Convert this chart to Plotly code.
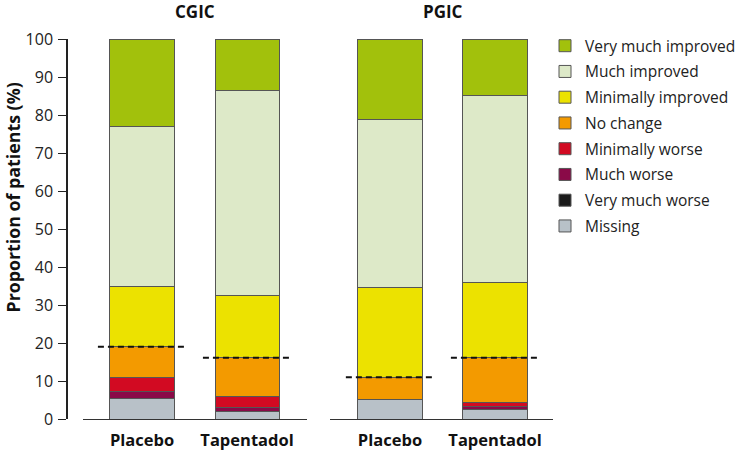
import plotly.graph_objects as go

groups = ["CGIC", "PGIC"]
arms = ["Placebo", "Tapentadol"]

# values per bar: [CGIC Placebo, CGIC Tapentadol, PGIC Placebo, PGIC Tapentadol]
categories = ["Missing", "Very much worse", "Much worse", "Minimally worse",
              "No change", "Minimally improved", "Much improved", "Very much improved"]
missing = [5.4, 2.0, 5.2, 2.6]
very_much_worse = [0.0, 0.0, 0.0, 0.0]
much_worse = [1.9, 1.0, 0.0, 0.8]
minimally_worse = [3.7, 2.9, 0.0, 0.9]
no_change = [8.0, 10.2, 5.8, 11.8]
minimally_improved = [15.8, 16.5, 23.6, 19.8]
much_improved = [42.2, 53.8, 44.3, 49.3]
very_much_improved = [23.0, 13.6, 21.1, 14.8]

series = [missing, very_much_worse, much_worse, minimally_worse, no_change,
          minimally_improved, much_improved, very_much_improved]
colors = ["#b8c1c8", "#1a1a1a", "#8a0a48", "#d20a22", "#f39a00",
          "#ece200", "#dde9c8", "#a2c10c"]

FONT = "Open Sans"
fig = go.Figure()

xpos = [0, 1]
for gi, g in enumerate(groups):
    xa = "x" if gi == 0 else "x2"
    ya = "y" if gi == 0 else "y2"
    for ci, (name, vals, col) in enumerate(zip(categories, series, colors)):
        fig.add_trace(go.Bar(
            x=xpos, y=vals[gi * 2: gi * 2 + 2], name=name,
            marker=dict(color=col, line=dict(color="#555555", width=1)),
            width=0.61, xaxis=xa, yaxis=ya,
            legendgroup=name, showlegend=(gi == 0),
            legendrank=100 - ci,
            hoverinfo="name+y",
        ))
    # dashed line at top of "No change" (cumulative of negatives + no change)
    for bi in range(2):
        idx = gi * 2 + bi
        top = sum(s[idx] for s in series[:5])
        fig.add_trace(go.Scatter(
            x=[xpos[bi] - 0.42, xpos[bi] + 0.42], y=[top, top], mode="lines",
            line=dict(color="#111111", width=2, dash="6px,4px"),
            xaxis=xa, yaxis=ya, showlegend=False, hoverinfo="skip",
        ))

W, H = 735, 454
def px(x):
    return x / W

fig.update_layout(
    width=W, height=H,
    margin=dict(l=0, r=0, t=39, b=35, autoexpand=False),
    barmode="stack",
    plot_bgcolor="white", paper_bgcolor="white",
    font=dict(family=FONT, color="#222222"),
    xaxis=dict(domain=[px(83), px(307)], range=[-0.562, 1.571],
               tickvals=xpos, ticktext=arms, showline=True, linecolor="#333333",
               linewidth=1, ticks="", showgrid=False, zeroline=False,
               ticklabelstandoff=6,
               tickfont=dict(size=16.5, family=FONT, color="#111111", weight="bold")),
    xaxis2=dict(domain=[px(330), px(553)], range=[-0.571, 1.552],
                tickvals=xpos, ticktext=arms, showline=True, linecolor="#333333",
                linewidth=1, ticks="", showgrid=False, zeroline=False,
                ticklabelstandoff=6,
                tickfont=dict(size=16.5, family=FONT, color="#111111", weight="bold")),
    yaxis=dict(range=[0, 100], anchor="free", position=px(67), showline=True,
               linecolor="#222222", linewidth=1.5, ticks="outside", ticklen=8,
               tickcolor="#222222", tickvals=list(range(0, 101, 10)),
               showgrid=False, zeroline=False, ticklabelstandoff=2,
               tickfont=dict(size=16, family=FONT, color="#222222")),
    yaxis2=dict(range=[0, 100], anchor="x2", matches="y", visible=False),
    legend=dict(x=px(545), y=1.026, xanchor="left", yanchor="top",
                traceorder="grouped", tracegroupgap=2.6,
                font=dict(size=15.5, family=FONT, color="#222222"),
                bgcolor="rgba(0,0,0,0)"),
    annotations=[
        dict(text="<b>CGIC</b>", x=0.5, xref="x", y=1.073, yref="paper",
             showarrow=False, yanchor="middle", font=dict(size=17, family=FONT, color="#111111")),
        dict(text="<b>PGIC</b>", x=0.5, xref="x2", y=1.073, yref="paper",
             showarrow=False, yanchor="middle", font=dict(size=17, family=FONT, color="#111111")),
        dict(text="<b>Proportion of patients (%)</b>", textangle=-90,
             x=px(13), xref="paper", xanchor="center", y=0.583, yref="paper",
             yanchor="middle", showarrow=False,
             font=dict(size=17.8, family=FONT, color="#111111")),
    ],
    bargap=0.3,
)

fig.write_html("out.html", config={"displayModeBar": False},
               post_script="document.body.style.margin='0';")
